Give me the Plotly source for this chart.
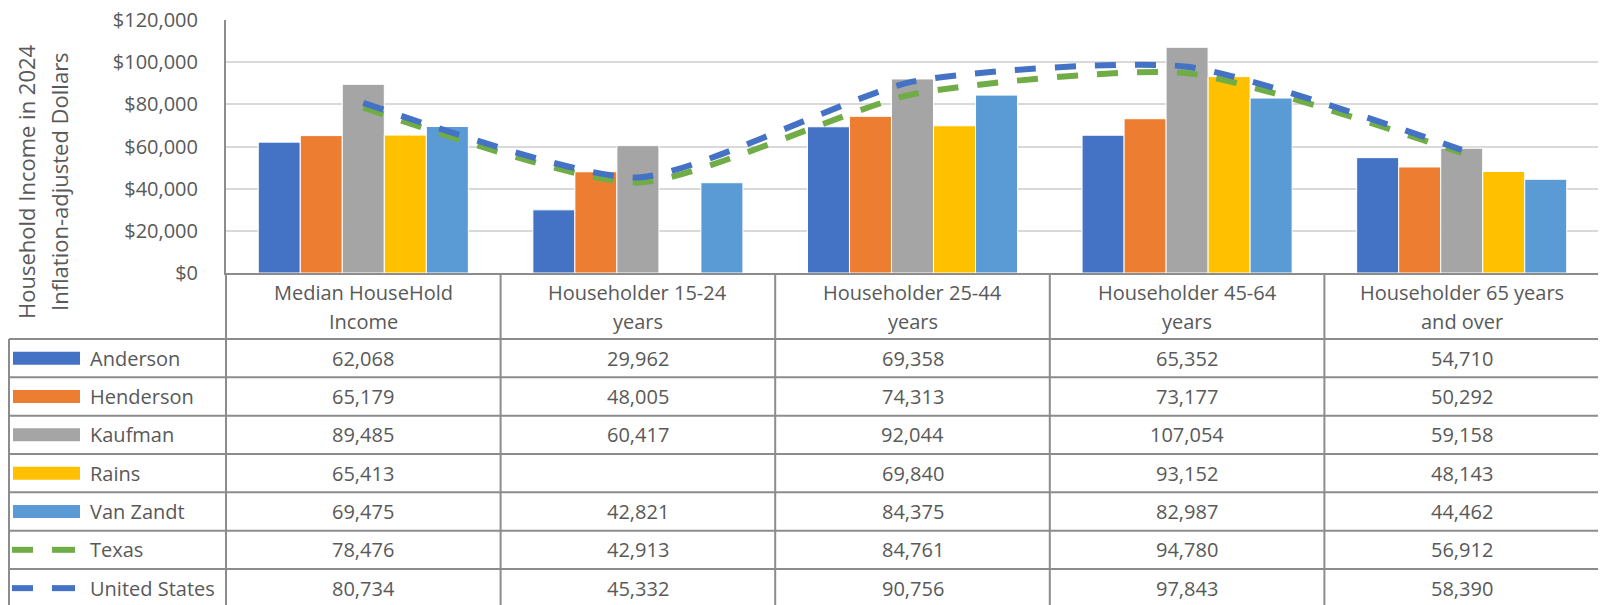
import plotly.graph_objects as go

categories = [
    "Median HouseHold\nIncome",
    "Householder 15-24\nyears",
    "Householder 25-44\nyears",
    "Householder 45-64\nyears",
    "Householder 65 years\nand over",
]
anderson = [62068, 29962, 69358, 65352, 54710]
henderson = [65179, 48005, 74313, 73177, 50292]
kaufman = [89485, 60417, 92044, 107054, 59158]
rains = [65413, None, 69840, 93152, 48143]
van_zandt = [69475, 42821, 84375, 82987, 44462]
texas = [78476, 42913, 84761, 94780, 56912]
united_states = [80734, 45332, 90756, 97843, 58390]

bar_series = [
    ("Anderson", anderson, "#4472C4"),
    ("Henderson", henderson, "#ED7D31"),
    ("Kaufman", kaufman, "#A5A5A5"),
    ("Rains", rains, "#FFC000"),
    ("Van Zandt", van_zandt, "#5B9BD5"),
]
line_series = [
    ("Texas", texas, "#70AD47"),
    ("United States", united_states, "#4472C4"),
]

# the page body adds an 8px margin, so the figure is sized to fit the window
OFF = 8
W, H = 1606 - OFF, 605 - OFF
FONT = "Open Sans"
TXT = "#595959"
GRID_LINE = "#8C8C8C"

# window-pixel layout of the plot area / data table
PL, PR, PT, PB = 226, 1599, 20, 273
HEAD_BOTTOM = 339
ROW_H = 38.33
TABLE_LEFT = 9


def px(x):
    return (x - OFF) / W


def py(y):
    return 1 - (y - OFF) / H


xcats = [c.replace("\n", " ") for c in categories]

fig = go.Figure()

for name, vals, color in bar_series:
    fig.add_trace(go.Bar(
        x=xcats, y=vals, name=name,
        marker=dict(color=color, line=dict(color="white", width=1)),
    ))

for name, vals, color in line_series:
    fig.add_trace(go.Scatter(
        x=xcats, y=vals, name=name, mode="lines",
        line=dict(color=color, width=6, dash="21px,19px", shape="spline", smoothing=0.6),
    ))

shapes = []
annotations = []


def hline(y, x0, x1):
    shapes.append(dict(type="line", xref="paper", yref="paper",
                       x0=px(x0), x1=px(x1), y0=py(y), y1=py(y),
                       line=dict(color=GRID_LINE, width=2)))


def vline(x, y0, y1):
    shapes.append(dict(type="line", xref="paper", yref="paper",
                       x0=px(x), x1=px(x), y0=py(y0), y1=py(y1),
                       line=dict(color=GRID_LINE, width=2)))


col_w = (PR - PL) / len(categories)
all_rows = bar_series + line_series

# table grid
hline(HEAD_BOTTOM, TABLE_LEFT, PR)
for i in range(1, len(all_rows)):
    hline(HEAD_BOTTOM + i * ROW_H, TABLE_LEFT, PR)
vline(TABLE_LEFT, HEAD_BOTTOM, 610)
for k in range(len(categories) + 1):
    vline(PL + k * col_w, PB, 610)

# header row
for k, cat in enumerate(categories):
    cx = PL + (k + 0.5) * col_w
    for j, part in enumerate(cat.split("\n")):
        annotations.append(dict(
            x=px(cx), y=py(292 + j * 29), xref="paper", yref="paper",
            text=part, showarrow=False, xanchor="center", yanchor="middle",
            font=dict(family=FONT, size=20, color=TXT)))

# data rows with legend keys
for i, (name, vals, color) in enumerate(all_rows):
    cy = HEAD_BOTTOM + i * ROW_H + ROW_H / 2
    if i < len(bar_series):
        shapes.append(dict(type="rect", xref="paper", yref="paper",
                           x0=px(13), x1=px(80), y0=py(cy - 6.5), y1=py(cy + 6.5),
                           fillcolor=color, line=dict(width=0)))
    else:
        for a, b in [(12, 33), (52, 75)]:
            shapes.append(dict(type="line", xref="paper", yref="paper",
                               x0=px(a), x1=px(b), y0=py(cy), y1=py(cy),
                               line=dict(color=color, width=6)))
    annotations.append(dict(
        x=px(88), y=py(cy), xref="paper", yref="paper", text=name,
        showarrow=False, xanchor="left", yanchor="middle",
        font=dict(family=FONT, size=20, color=TXT)))
    for k, v in enumerate(vals):
        if v is None:
            continue
        annotations.append(dict(
            x=px(PL + (k + 0.5) * col_w), y=py(cy), xref="paper", yref="paper",
            text=f"{v:,}", showarrow=False, xanchor="center", yanchor="middle",
            font=dict(family=FONT, size=20, color=TXT)))

# y-axis title (two lines)
for x_c, line in [(26, "Household Income in 2024"), (59, "Inflation-adjusted Dollars")]:
    annotations.append(dict(
        x=px(x_c), y=py(182), xref="paper", yref="paper", text=line,
        textangle=-90, showarrow=False, xanchor="center", yanchor="middle",
        font=dict(family=FONT, size=22, color=TXT)))

fig.update_layout(
    width=W, height=H, autosize=False,
    margin=dict(l=0, r=0, t=0, b=0, pad=0),
    paper_bgcolor="white", plot_bgcolor="white",
    barmode="group", bargap=0.235, bargroupgap=0,
    showlegend=False,
    shapes=shapes, annotations=annotations,
    font=dict(family=FONT, color=TXT),
)
fig.update_xaxes(
    domain=[px(PL), px(PR)], showticklabels=False, ticks="", automargin=False,
    showline=True, linecolor=GRID_LINE, linewidth=2, showgrid=False,
)
fig.update_yaxes(
    domain=[py(PB), py(PT)], range=[0, 120000], dtick=20000, automargin=False,
    tickformat="$,", tickfont=dict(family=FONT, size=20, color=TXT),
    ticklabeloverflow="allow",
    ticks="outside", ticklen=22, tickcolor="rgba(0,0,0,0)",
    showline=True, linecolor=GRID_LINE, linewidth=2,
    gridcolor="#D9D9D9", gridwidth=1.5, zeroline=False,
)

fig.write_html("out.html")
